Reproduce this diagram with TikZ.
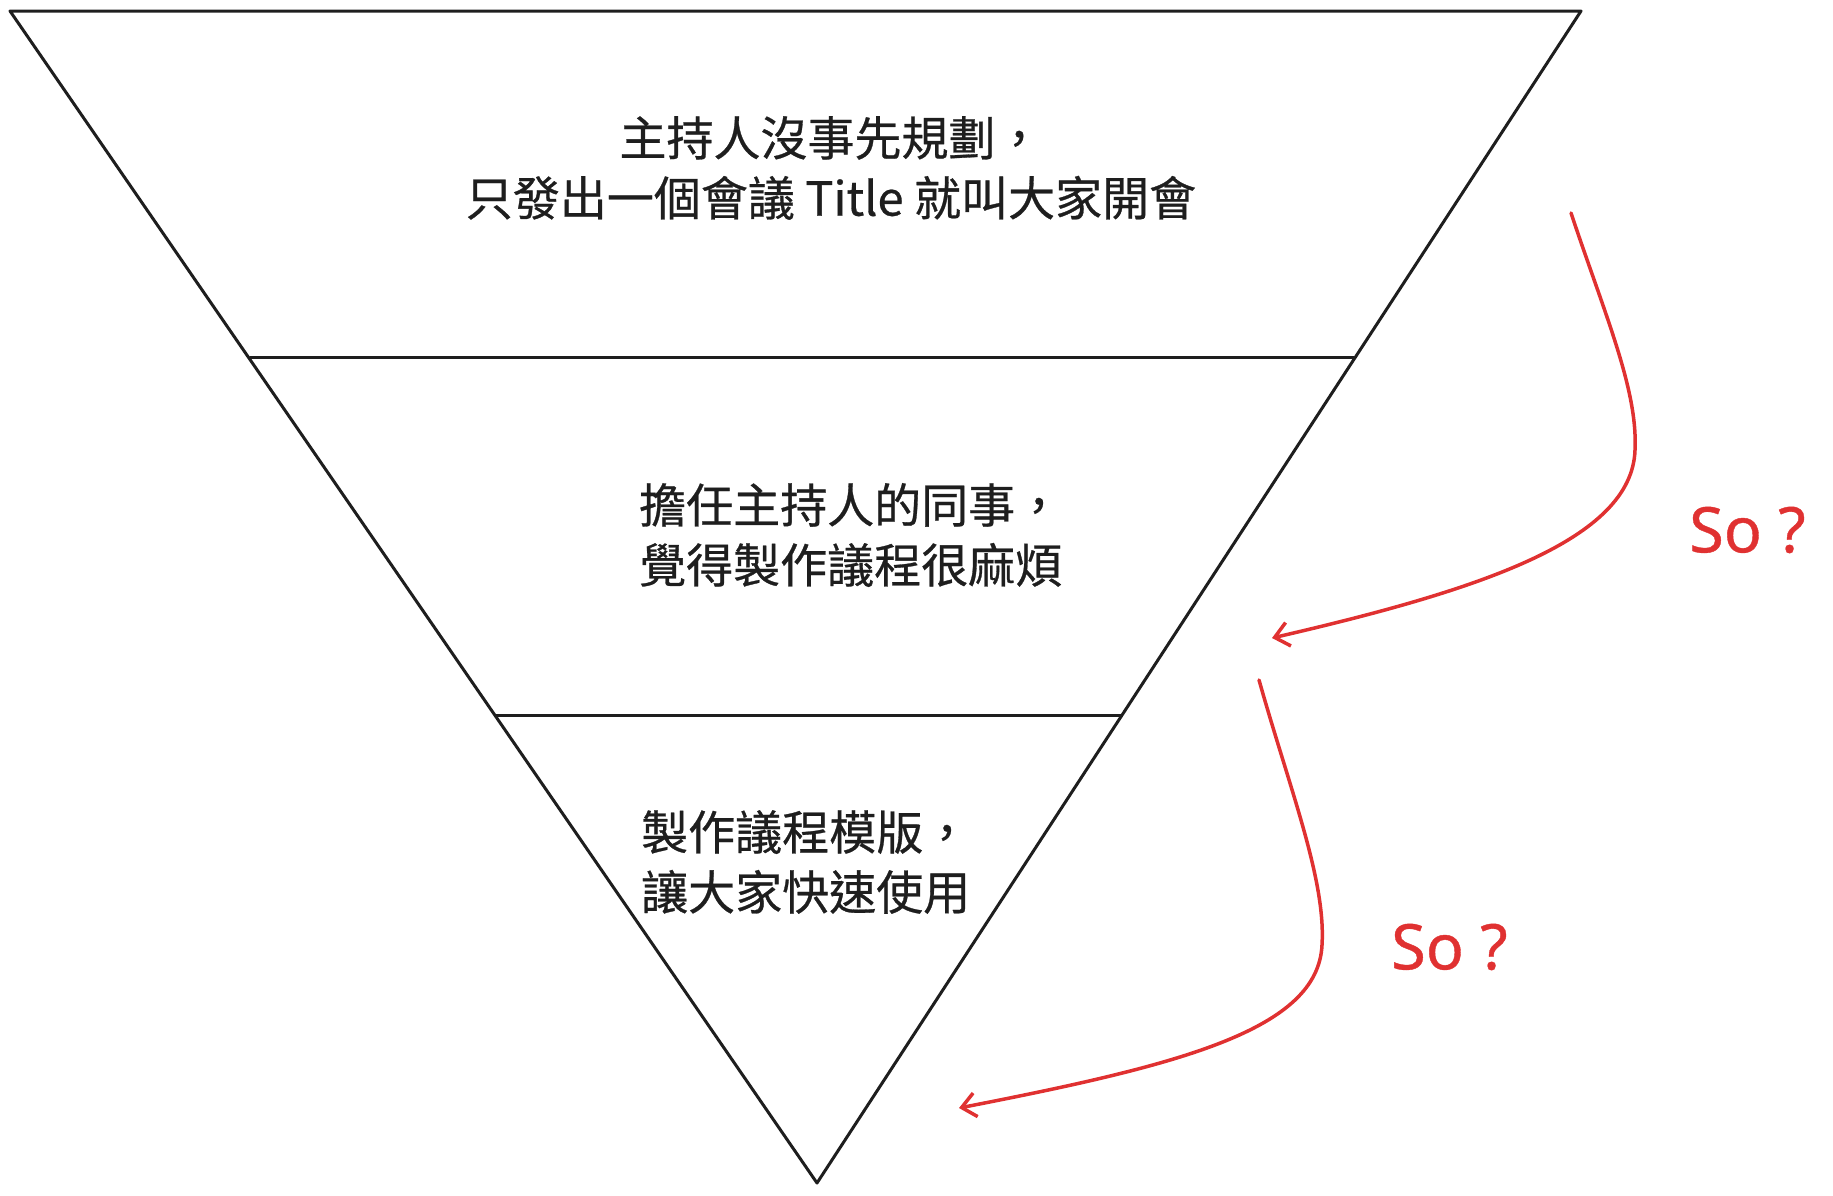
\documentclass[tikz,border=0pt]{standalone}
\usepackage{fontspec}
\newfontfamily\cjk[FakeBold=0.6]{Noto Sans CJK TC}
\newfontfamily\latinsans[FakeBold=0.6]{Noto Sans}
\usetikzlibrary{arrows.meta}
\definecolor{ink}{HTML}{1E1E1E}
\definecolor{redink}{HTML}{E03131}
\tikzset{
  edge/.style={draw=ink, line width=3pt, line join=round, line cap=round},
  label/.style={font={\cjk\fontsize{47}{60}\selectfont}, text=ink, inner sep=0pt},
  soarrow/.style={draw=redink, line width=3.5pt, line cap=round, -{Straight Barb[length=14pt,width=24pt,line width=3.5pt]}},
  sotext/.style={font={\latinsans\fontsize{63}{70}\selectfont}, text=redink, inner sep=0pt}
}
\begin{document}
\begin{tikzpicture}[x=1pt,y=-1pt]
\useasboundingbox (0,0) rectangle (1833,1195);
\coordinate (tl) at (10,11);
\coordinate (tr) at (1581,11);
\coordinate (bt) at (817,1183);
\coordinate (d1l) at (250,357);
\coordinate (d1r) at (1355,357);
\coordinate (d2l) at (496,715);
\coordinate (d2r) at (1121,715);
\draw[edge] (tl) -- (tr) -- (bt) -- cycle;
\draw[edge] (d1l) -- (d1r);
\draw[edge] (d2l) -- (d2r);

\node[label, align=center] (t1) at (831,168) {主持人沒事先規劃，\\只發出一個會議 Title 就叫大家開會};
\node[label, align=left, anchor=west] (t2) at (639,535) {擔任主持人的同事，\\覺得製作議程很麻煩};
\node[label, align=left, anchor=west] (t3) at (641,862) {製作議程模版，\\讓大家快速使用};

\coordinate (a1s) at (1571,213);
\coordinate (a1m) at (1635,450);
\coordinate (a1e) at (1272,638);
\draw[soarrow] (a1s) .. controls (1605,315) and (1638,390) .. (a1m) .. controls (1632,540) and (1480,590) .. (a1e);

\coordinate (a2s) at (1259,680);
\coordinate (a2m) at (1322,945);
\coordinate (a2e) at (959,1108);
\draw[soarrow] (a2s) .. controls (1290,790) and (1326,880) .. (a2m) .. controls (1318,1030) and (1180,1065) .. (a2e);

\node[sotext, anchor=west] (s1) at (1689,530) {So ?};
\node[sotext, anchor=west] (s2) at (1391,947) {So ?};
\end{tikzpicture}
\end{document}
